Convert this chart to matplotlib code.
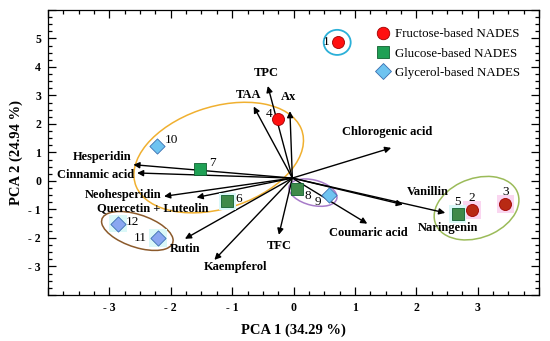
import numpy as np
import matplotlib.pyplot as plt
from matplotlib.patches import Ellipse
from matplotlib.lines import Line2D
from matplotlib.ticker import MultipleLocator, FuncFormatter

plt.rcParams['font.family'] = ['Liberation Serif', 'DejaVu Serif']

# sample scores (PCA 1, PCA 2)
sample_ids = ['1', '2', '3', '4', '5', '6', '7', '8', '9', '10', '11', '12']
pc1 = [0.73, 2.91, 3.45, -0.26, 2.67, -1.08, -1.53, 0.06, 0.57, -2.23, -2.21, -2.86]
pc2 = [4.87, -1.01, -0.81, 2.16, -1.15, -0.72, 0.42, -0.28, -0.48, 1.24, -2.01, -1.50]
group = ['fru', 'fru', 'fru', 'fru', 'glu', 'glu', 'glu', 'glu', 'gly', 'gly', 'gly', 'gly']

# loadings (arrow tips)
variables = ['TPC', 'TAA', 'Ax', 'Chlorogenic acid', 'Vanillin', 'Naringenin',
             'Coumaric acid', 'TFC', 'Kaempferol', 'Rutin', 'Neohesperidin',
             'Quercetin + Luteolin', 'Cinnamic acid', 'Hesperidin']
load1 = [-0.42, -0.65, -0.06, 1.59, 1.78, 2.47, 1.20, -0.24, -1.29, -1.77, -2.11, -1.58, -2.55, -2.61]
load2 = [3.33, 2.61, 2.45, 1.16, -0.83, -1.12, -1.50, -1.89, -2.77, -2.03, -0.54, -0.58, 0.28, 0.57]

fig = plt.figure(figsize=(5.5, 3.41), dpi=100)
ax = fig.add_axes([0.0873, 0.135, 0.893, 0.836])
ax.set_xlim(-4, 4)
ax.set_ylim(-4, 6)

# group ellipses
ax.add_patch(Ellipse((-1.22, 0.82), 4.04, 2.52, angle=69, fill=False, ec='#F0B030', lw=1.1))
ax.add_patch(Ellipse((-2.545, -1.755), 1.56, 0.89, angle=-54, fill=False, ec='#8B5A2B', lw=1.1))
ax.add_patch(Ellipse((0.315, -0.41), 1.03, 0.69, angle=-61, fill=False, ec='#A77BC9', lw=1.1))
ax.add_patch(Ellipse((2.98, -0.955), 2.27, 1.31, angle=76.4, fill=False, ec='#9BBB59', lw=1.1))
ax.add_patch(Ellipse((0.71, 4.86), 0.44, 0.88, fill=False, ec='#2BB0D8', lw=1.3))

# loading arrows
origin = (-0.02, 0.1)
label_pos = {
    'TPC': (-0.45, 3.78, 'center'), 'TAA': (-0.74, 3.0, 'center'), 'Ax': (-0.09, 2.94, 'center'),
    'Chlorogenic acid': (1.52, 1.70, 'center'), 'Vanillin': (2.19, -0.40, 'center'),
    'Naringenin': (2.51, -1.65, 'center'), 'Coumaric acid': (1.22, -1.83, 'center'),
    'TFC': (-0.24, -2.28, 'center'), 'Kaempferol': (-0.95, -3.01, 'center'),
    'Rutin': (-1.77, -2.39, 'center'), 'Neohesperidin': (-2.16, -0.48, 'right'),
    'Quercetin + Luteolin': (-2.29, -0.95, 'center'), 'Cinnamic acid': (-2.60, 0.22, 'right'),
    'Hesperidin': (-2.64, 0.85, 'right'),
}
for name, x, y in zip(variables, load1, load2):
    ax.annotate('', xy=(x, y), xytext=origin,
                arrowprops=dict(arrowstyle='-|>', color='black', lw=1.0,
                                mutation_scale=9, shrinkA=0, shrinkB=0))
    lx, ly, ha = label_pos[name]
    ax.text(lx, ly, name, ha=ha, va='center', fontsize=9, fontweight='bold')

# samples
styles = {
    'fru': dict(marker='o', color='#FF1010', ec='#A00000', s=75),
    'glu': dict(marker='s', color='#1FA055', ec='#106030', s=70),
    'gly': dict(marker='D', color='#6EC3F0', ec='#3A6FB0', s=60),
}
dark = {'2': '#B82A14', '3': '#B82A14', '5': '#3F8A4A', '6': '#3F8A4A',
        '8': '#3F8A4A', '11': '#8AA6F0', '12': '#8AA6F0'}
glow = {'2': '#FAD6F0', '3': '#FAD6F0', '5': '#DAF8F8', '6': '#DAF8F8',
        '11': '#DAF8F8', '12': '#DAF8F8'}
offsets = {'1': (-8.5, 0), '2': (0, 8.5), '3': (0, 8.5), '4': (-6.5, 3.5), '5': (0, 8.5),
           '6': (8.5, 2), '7': (9.5, 4.5), '8': (7.5, -5), '9': (-7.5, -5.5), '10': (11, 4),
           '11': (-12.5, 0), '12': (10.5, 1.0)}
for sid, x, y, g in zip(sample_ids, pc1, pc2, group):
    st = styles[g]
    fc = dark.get(sid, st['color'])
    if sid in glow:
        ax.scatter(x, y, marker='s', s=160, c=glow[sid], edgecolors='none', zorder=4)
    ax.scatter(x, y, marker=st['marker'], s=st['s'], c=fc, edgecolors=st['ec'],
               linewidths=0.6, zorder=5)
    ax.annotate(sid, (x, y), xytext=offsets[sid], textcoords='offset points',
                ha='center', va='center', fontsize=9.5, zorder=6)

handles = [
    Line2D([], [], ls='', marker='o', ms=9, mfc='#FF1010', mec='#A00000', mew=0.6),
    Line2D([], [], ls='', marker='s', ms=8.5, mfc='#1FA055', mec='#106030', mew=0.6),
    Line2D([], [], ls='', marker='D', ms=8, mfc='#6EC3F0', mec='#3A6FB0', mew=0.6),
]
ax.legend(handles, ['Fructose-based NADES', 'Glucose-based NADES', 'Glycerol-based NADES'],
          loc='upper left', bbox_to_anchor=(0.655, 0.958), frameon=False, fontsize=9.3,
          borderpad=0, handlelength=1.0, handletextpad=0.45, labelspacing=0.55)

# axes styling
def fmt(v, pos, lo, hi):
    if v < lo - 0.01 or v > hi + 0.01:
        return ''
    v = int(round(v))
    return f'- {abs(v)}' if v < 0 else f'{v}'

ax.xaxis.set_major_locator(MultipleLocator(1))
ax.xaxis.set_minor_locator(MultipleLocator(0.25))
ax.yaxis.set_major_locator(MultipleLocator(1))
ax.yaxis.set_minor_locator(MultipleLocator(0.25))
ax.xaxis.set_major_formatter(FuncFormatter(lambda v, p: fmt(v, p, -3, 3)))
ax.yaxis.set_major_formatter(FuncFormatter(lambda v, p: fmt(v, p, -3, 5)))
ax.tick_params(which='both', direction='in', top=True, right=True, width=0.9)
ax.tick_params(which='major', length=6, pad=5, labelsize=8.5)
ax.tick_params(which='minor', length=3)
for lab in ax.get_xticklabels() + ax.get_yticklabels():
    lab.set_fontweight('bold')
for sp in ax.spines.values():
    sp.set_linewidth(0.9)

ax.set_xlabel('PCA 1 (34.29 %)', fontsize=10.5, fontweight='bold', labelpad=7)
ax.set_ylabel('PCA 2 (24.94 %)', fontsize=10.5, fontweight='bold', labelpad=4)

fig.savefig('out.png', dpi=100)
